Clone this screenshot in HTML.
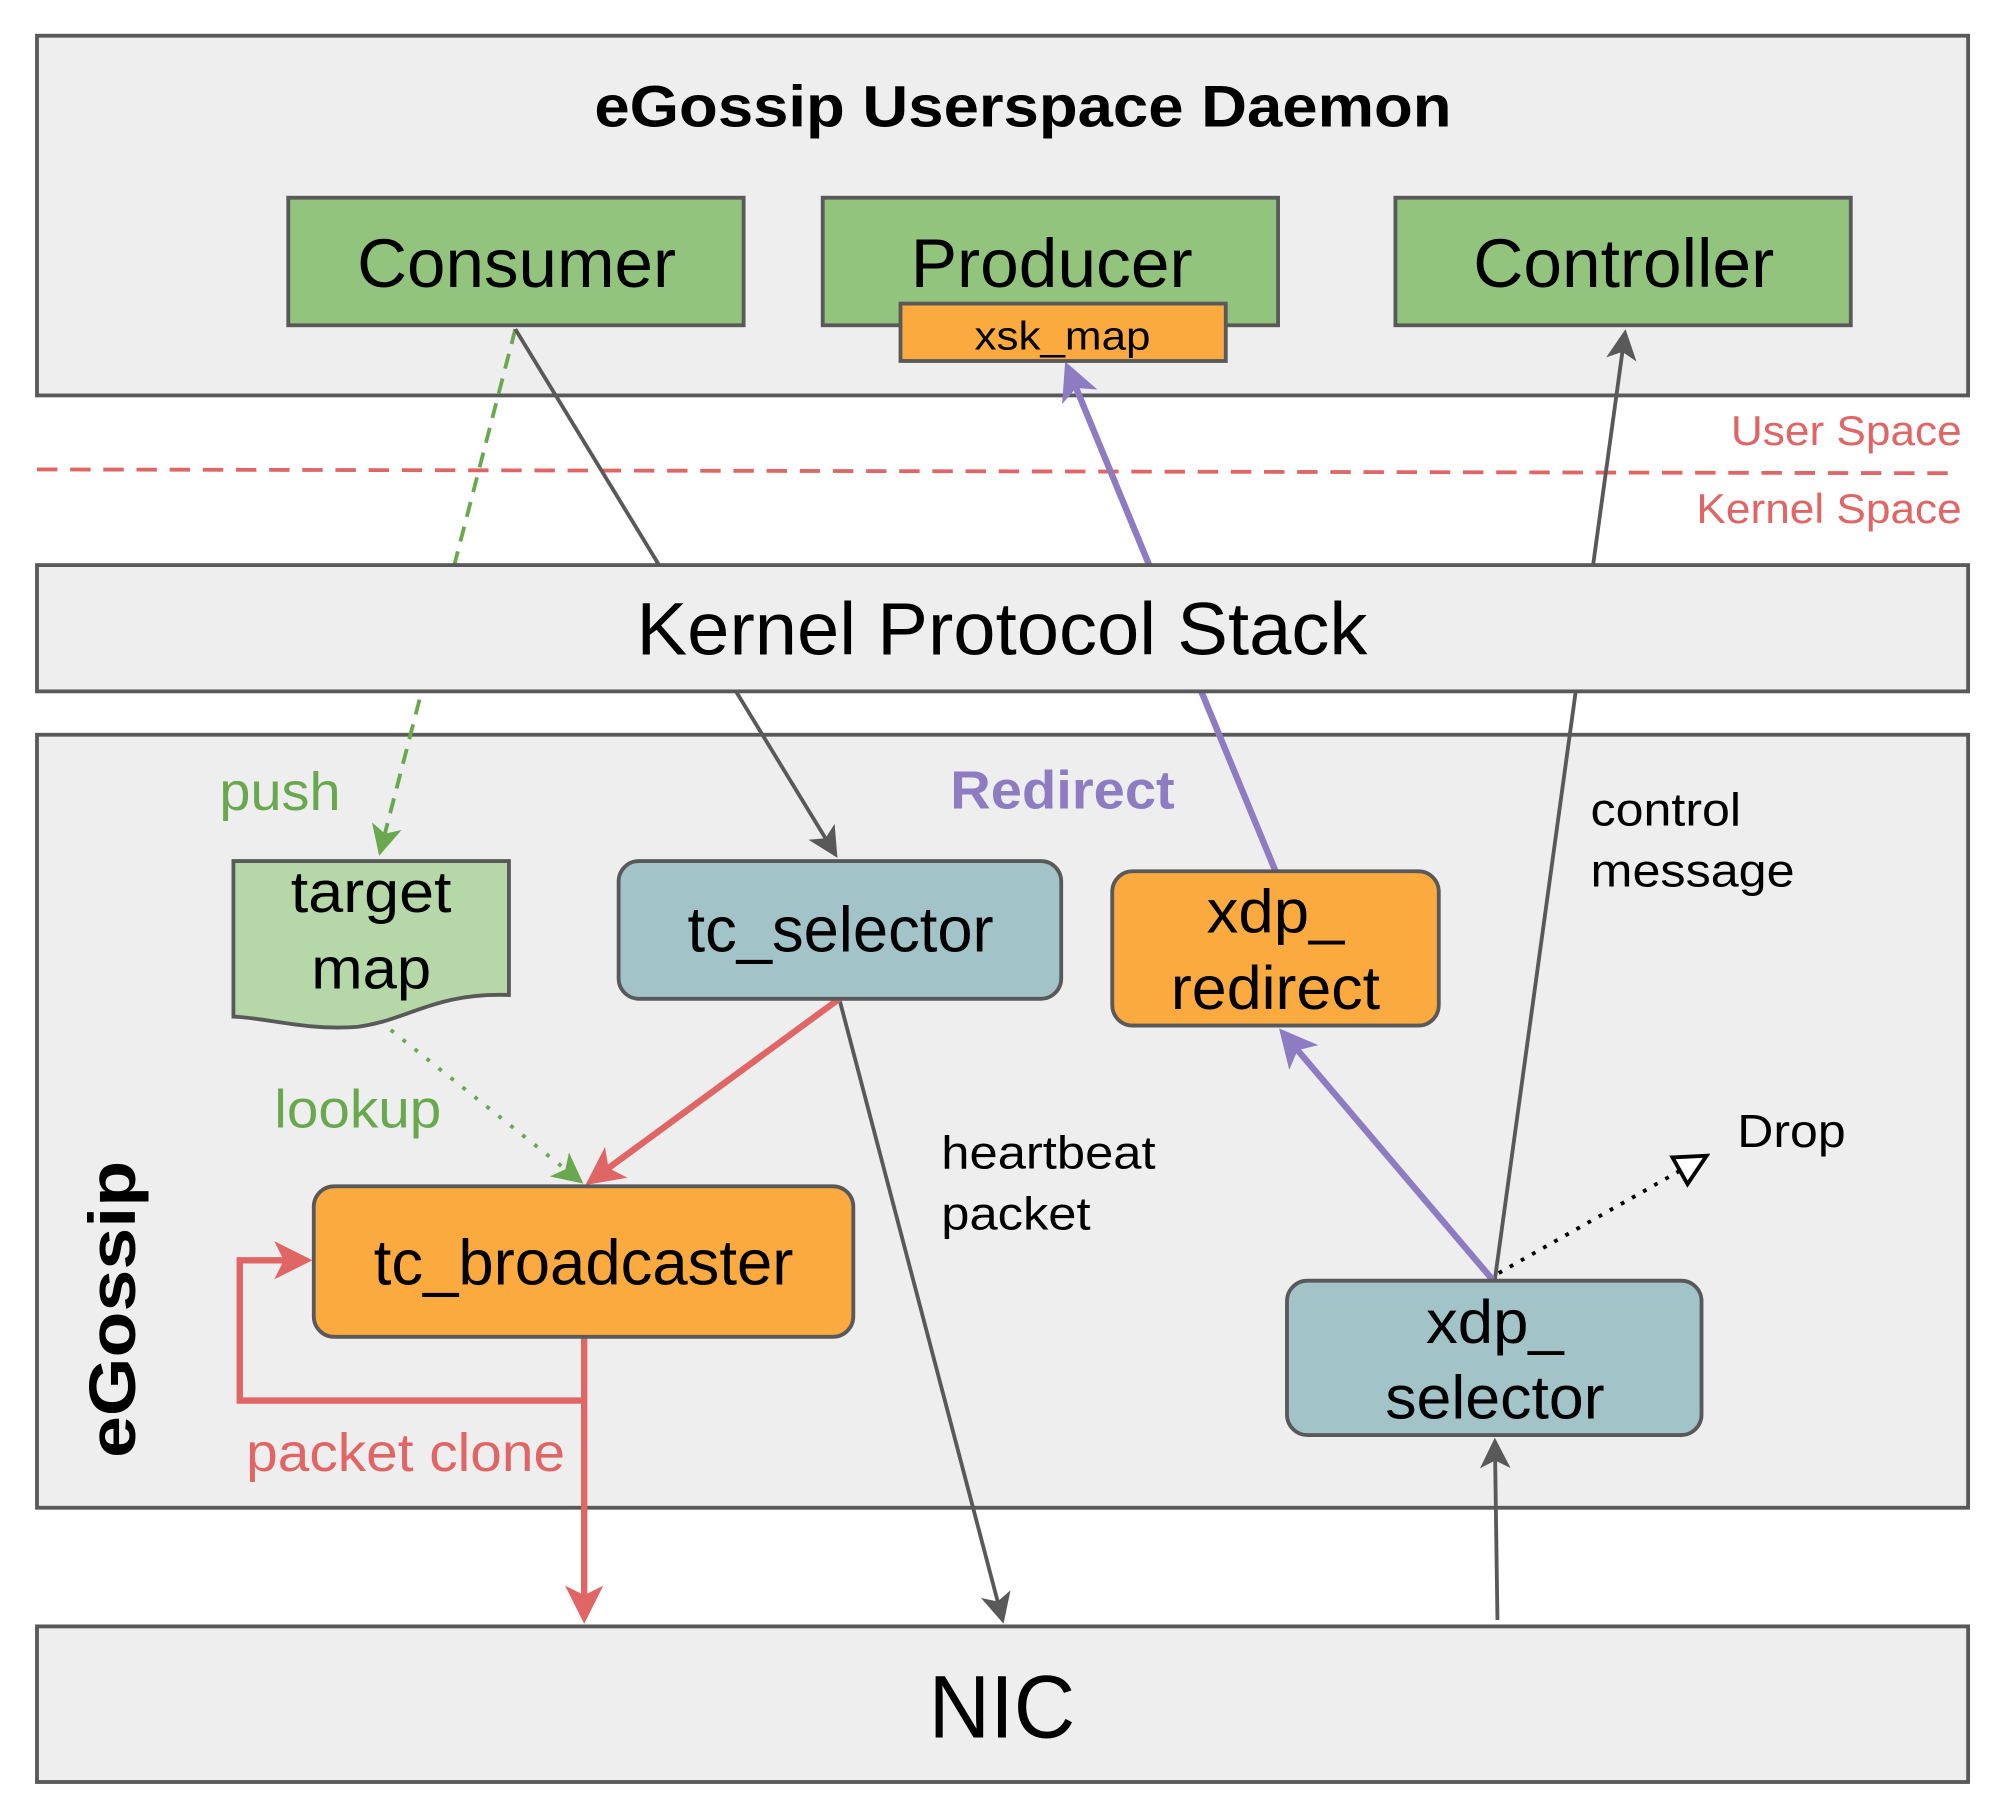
<!DOCTYPE html>
<html><head><meta charset="utf-8"><style>html,body{margin:0;padding:0;background:#fff}svg{display:block}text{font-family:"Liberation Sans",Arial,sans-serif}</style></head>
<body>
<svg width="2000" height="1819" viewBox="0 0 1568 1426" preserveAspectRatio="none" xmlns="http://www.w3.org/2000/svg">
<defs>
<marker id="ag" markerWidth="8" markerHeight="8" refX="7" refY="4" orient="auto" markerUnits="strokeWidth"><path d="M0,0 L8,4 L0,8 L2,4 Z" fill="#6aa84f"/></marker>
<marker id="ak" markerWidth="8" markerHeight="8" refX="7" refY="4" orient="auto" markerUnits="strokeWidth"><path d="M0,0 L8,4 L0,8 L2,4 Z" fill="#595959"/></marker>
<marker id="ap" markerWidth="6" markerHeight="6" refX="5" refY="3" orient="auto" markerUnits="strokeWidth"><path d="M0,0 L6,3 L0,6 L1.5,3 Z" fill="#8e7cc3"/></marker>
<marker id="ar" markerWidth="6" markerHeight="6" refX="5" refY="3" orient="auto" markerUnits="strokeWidth"><path d="M0,0 L6,3 L0,6 L1.5,3 Z" fill="#e06666"/></marker>
<marker id="ao" markerWidth="10" markerHeight="10" refX="9" refY="5" orient="auto" markerUnits="strokeWidth"><path d="M1,1 L9,5 L1,9 Z" fill="#fff" stroke="#000" stroke-width="1"/></marker>
</defs>
<rect width="1568" height="1426" fill="#fff"/>
<rect x="29" y="28" width="1514" height="282" fill="#eeeeee" stroke="#595959" stroke-width="3"/>
<text x="466" y="99" font-size="46" font-weight="bold" textLength="672" lengthAdjust="spacingAndGlyphs">eGossip Userspace Daemon</text>
<rect x="29" y="576" width="1514" height="606" fill="#eeeeee" stroke="#595959" stroke-width="3"/>
<line x1="29" y1="368" x2="1535" y2="371" stroke="#e06666" stroke-width="3" stroke-dasharray="16,10"/>
<text x="1357" y="349" font-size="33" fill="#e06666" textLength="181" lengthAdjust="spacingAndGlyphs">User Space</text>
<text x="1330" y="410" font-size="33" fill="#e06666" textLength="208" lengthAdjust="spacingAndGlyphs">Kernel Space</text>
<line x1="404" y1="258" x2="298" y2="668" stroke="#6aa84f" stroke-width="3" stroke-dasharray="12,8" marker-end="url(#ag)"/>
<line x1="404" y1="258" x2="655" y2="670" stroke="#595959" stroke-width="3" marker-end="url(#ak)"/>
<line x1="1000" y1="683" x2="837" y2="288" stroke="#8e7cc3" stroke-width="5" marker-end="url(#ap)"/>
<line x1="1172" y1="1003" x2="1274" y2="261" stroke="#595959" stroke-width="3" marker-end="url(#ak)"/>
<line x1="658" y1="783" x2="786" y2="1270" stroke="#595959" stroke-width="3" marker-end="url(#ak)"/>
<line x1="1170" y1="1003" x2="1006" y2="810" stroke="#8e7cc3" stroke-width="5" marker-end="url(#ap)"/>
<line x1="1175" y1="998" x2="1338" y2="906" stroke="#000" stroke-width="3" stroke-dasharray="3,7" marker-end="url(#ao)"/>
<line x1="297" y1="800" x2="455" y2="926" stroke="#6aa84f" stroke-width="3" stroke-dasharray="3,9" marker-end="url(#ag)"/>
<line x1="658" y1="783" x2="463" y2="926" stroke="#e06666" stroke-width="5" marker-end="url(#ar)"/>
<line x1="458" y1="1048" x2="458" y2="1268" stroke="#e06666" stroke-width="5" marker-end="url(#ar)"/>
<polyline points="458,1098 188,1098 188,988 240,988" fill="none" stroke="#e06666" stroke-width="5" marker-end="url(#ar)"/>
<line x1="1174" y1="1270" x2="1172" y2="1130" stroke="#595959" stroke-width="3" marker-end="url(#ak)"/>
<rect x="226" y="155" width="357" height="100" fill="#93c47d" stroke="#595959" stroke-width="3"/>
<text x="280" y="225" font-size="54" textLength="250" lengthAdjust="spacingAndGlyphs">Consumer</text>
<rect x="645" y="155" width="357" height="100" fill="#93c47d" stroke="#595959" stroke-width="3"/>
<text x="714" y="225" font-size="54" textLength="221" lengthAdjust="spacingAndGlyphs">Producer</text>
<rect x="706" y="238" width="255" height="45" fill="#fbaa3f" stroke="#595959" stroke-width="3"/>
<text x="764" y="274" font-size="31" textLength="138" lengthAdjust="spacingAndGlyphs">xsk_map</text>
<rect x="1094" y="155" width="357" height="100" fill="#93c47d" stroke="#595959" stroke-width="3"/>
<text x="1155" y="225" font-size="54" textLength="236" lengthAdjust="spacingAndGlyphs">Controller</text>
<rect x="29" y="443" width="1514" height="99" fill="#eeeeee" stroke="#595959" stroke-width="3"/>
<text x="499" y="513" font-size="58" textLength="573" lengthAdjust="spacingAndGlyphs">Kernel Protocol Stack</text>
<rect x="29" y="1275" width="1514" height="122" fill="#eeeeee" stroke="#595959" stroke-width="3"/>
<text x="728" y="1362" font-size="70" textLength="115" lengthAdjust="spacingAndGlyphs">NIC</text>
<text transform="translate(106,1143) rotate(-90)" font-size="52" font-weight="bold" textLength="233" lengthAdjust="spacingAndGlyphs">eGossip</text>
<path d="M183,675 L399,675 L399,780 C340,778 320,800 280,805 C240,808 210,798 183,797 Z" fill="#b6d7a8" stroke="#595959" stroke-width="3"/>
<text x="228" y="715" font-size="46" textLength="126" lengthAdjust="spacingAndGlyphs">target</text>
<text x="244" y="775" font-size="46" textLength="94" lengthAdjust="spacingAndGlyphs">map</text>
<rect x="485" y="675" width="347" height="108" rx="16" fill="#a2c4c9" stroke="#595959" stroke-width="3"/>
<text x="539" y="746" font-size="50" textLength="240" lengthAdjust="spacingAndGlyphs">tc_selector</text>
<rect x="872" y="683" width="256" height="121" rx="16" fill="#fbaa3f" stroke="#595959" stroke-width="3"/>
<text x="946" y="731" font-size="48" textLength="108" lengthAdjust="spacingAndGlyphs">xdp_</text>
<text x="918" y="791" font-size="48" textLength="164" lengthAdjust="spacingAndGlyphs">redirect</text>
<rect x="246" y="930" width="423" height="118" rx="16" fill="#fbaa3f" stroke="#595959" stroke-width="3"/>
<text x="293" y="1007" font-size="50" textLength="329" lengthAdjust="spacingAndGlyphs">tc_broadcaster</text>
<rect x="1009" y="1004" width="325" height="121" rx="16" fill="#a2c4c9" stroke="#595959" stroke-width="3"/>
<text x="1118" y="1053" font-size="48" textLength="108" lengthAdjust="spacingAndGlyphs">xdp_</text>
<text x="1086" y="1112" font-size="48" textLength="172" lengthAdjust="spacingAndGlyphs">selector</text>
<text x="172" y="635" font-size="42" fill="#6aa84f" textLength="95" lengthAdjust="spacingAndGlyphs">push</text>
<text x="745" y="634" font-size="42" font-weight="bold" fill="#8e7cc3" textLength="176" lengthAdjust="spacingAndGlyphs">Redirect</text>
<text x="1247" y="647" font-size="36" textLength="118" lengthAdjust="spacingAndGlyphs">control</text>
<text x="1247" y="695" font-size="36" textLength="160" lengthAdjust="spacingAndGlyphs">message</text>
<text x="215" y="884" font-size="42" fill="#6aa84f" textLength="131" lengthAdjust="spacingAndGlyphs">lookup</text>
<text x="738" y="916" font-size="36" textLength="168" lengthAdjust="spacingAndGlyphs">heartbeat</text>
<text x="738" y="964" font-size="36" textLength="117" lengthAdjust="spacingAndGlyphs">packet</text>
<text x="1362" y="899" font-size="36" textLength="85" lengthAdjust="spacingAndGlyphs">Drop</text>
<text x="193" y="1153" font-size="42" fill="#e06666" textLength="250" lengthAdjust="spacingAndGlyphs">packet clone</text>
</svg>
</body></html>
